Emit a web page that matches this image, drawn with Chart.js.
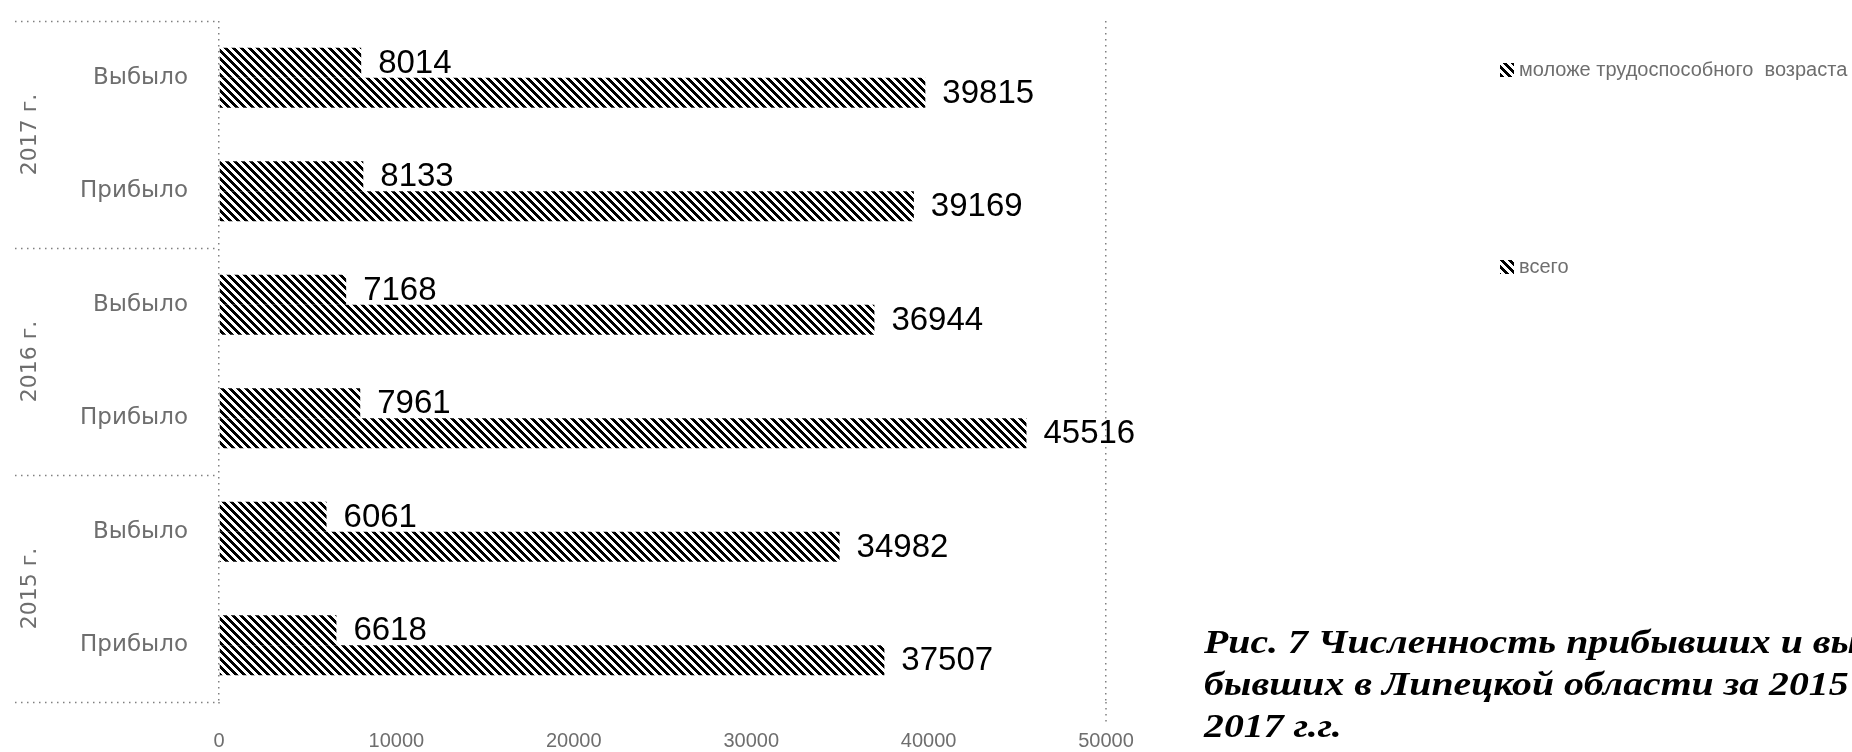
<!DOCTYPE html>
<html>
<head>
<meta charset="utf-8">
<title>Численность прибывших и выбывших</title>
<script src="https://cdn.jsdelivr.net/npm/chart.js@4.4.0/dist/chart.umd.min.js"></script>
<style>
  html, body { margin: 0; padding: 0; background: #fff; overflow: hidden; }
  .wrap { position: relative; width: 1852px; height: 752px; }
  #chart { position: absolute; left: 0; top: 0; }
  .caption {
    position: absolute; left: 1204px; top: 621px;
    font: italic bold 34px "Liberation Serif", "Times New Roman", serif;
    line-height: 42px; white-space: nowrap;
    transform: scaleX(1.17); transform-origin: left top;
  }
</style>
</head>
<body>
<div class="wrap">
  <canvas id="chart" width="1852" height="752"></canvas>
  <div class="caption">Рис. 7 Численность прибывших и вы-<br>бывших в Липецкой области за 2015 -<br>2017 г.г.</div>
</div>
<script>
const rowLabels = ["Выбыло", "Прибыло", "Выбыло", "Прибыло", "Выбыло", "Прибыло"];
const years = ["2017 г.", "2016 г.", "2015 г."];
const youngValues = [8014, 8133, 7168, 7961, 6061, 6618];
const totalValues = [39815, 39169, 36944, 45516, 34982, 37507];
const seriesNames = ["моложе трудоспособного  возраста", "всего"];
const xTicks = [0, 10000, 20000, 30000, 40000, 50000];

const grayText = "#6e6e6e";
const dotColor = "#808080";
const dotDash = [1.5, 4.5];

// diagonal hatch like the scanned original
function makeHatch() {
  const size = 8;
  const c = document.createElement("canvas");
  c.width = size;
  c.height = size;
  const g = c.getContext("2d");
  const img = g.createImageData(size, size);
  for (let y = 0; y < size; y++) {
    for (let x = 0; x < size; x++) {
      const on = ((x - y) % size + size) % size < 4;
      const i = (y * size + x) * 4;
      const v = on ? 0 : 255;
      img.data[i] = v;
      img.data[i + 1] = v;
      img.data[i + 2] = v;
      img.data[i + 3] = 255;
    }
  }
  g.putImageData(img, 0, 0);
  return document.getElementById("chart").getContext("2d").createPattern(c, "repeat");
}
const hatch = makeHatch();

const extras = {
  id: "extras",
  afterDraw(chart) {
    const ctx = chart.ctx;
    const area = chart.chartArea;
    const xScale = chart.scales.x;
    const yScale = chart.scales.y;

    // group separators and year labels on the left
    ctx.save();
    ctx.strokeStyle = dotColor;
    ctx.lineWidth = 1.5;
    ctx.setLineDash(dotDash);
    for (let k = 0; k <= years.length; k++) {
      const y = Math.round(yScale.getPixelForValue(k * 2 - 0.5)) + 0.5;
      ctx.beginPath();
      ctx.moveTo(15, y);
      ctx.lineTo(area.left, y);
      ctx.stroke();
    }
    // the outer grid lines run a little past the plot bottom
    const xEnd = xScale.getPixelForValue(xTicks[xTicks.length - 1]);
    ctx.beginPath();
    ctx.moveTo(xEnd, area.bottom);
    ctx.lineTo(xEnd, area.bottom + 22);
    ctx.moveTo(area.left, area.bottom);
    ctx.lineTo(area.left, area.bottom + 6);
    ctx.stroke();
    ctx.restore();

    ctx.save();
    ctx.fillStyle = grayText;
    ctx.font = "22px 'DejaVu Sans'";
    ctx.textAlign = "center";
    ctx.textBaseline = "middle";
    years.forEach((yr, k) => {
      const yMid = yScale.getPixelForValue(k * 2 + 0.5);
      ctx.save();
      ctx.translate(30, yMid);
      ctx.rotate(-Math.PI / 2);
      ctx.fillText(yr, 0, 0);
      ctx.restore();
    });
    ctx.restore();

    // value labels at the end of every bar
    ctx.save();
    ctx.fillStyle = "#000";
    ctx.font = "33px 'Liberation Sans'";
    ctx.textAlign = "left";
    ctx.textBaseline = "middle";
    chart.data.datasets.forEach((ds, di) => {
      chart.getDatasetMeta(di).data.forEach((bar, i) => {
        ctx.fillText(String(ds.data[i]), bar.x + 17, bar.y + 1);
      });
    });
    ctx.restore();

    // legend on the right
    ctx.save();
    ctx.font = "20px 'Liberation Sans'";
    ctx.textBaseline = "middle";
    const legendY = [70, 267];
    seriesNames.forEach((name, i) => {
      ctx.fillStyle = hatch;
      ctx.fillRect(1500, legendY[i] - 7, 14, 14);
      ctx.fillStyle = grayText;
      ctx.fillText(name, 1519, legendY[i]);
    });
    ctx.restore();
  }
};

new Chart(document.getElementById("chart"), {
  type: "bar",
  data: {
    labels: rowLabels,
    datasets: [
      { label: seriesNames[0], data: youngValues, backgroundColor: hatch, borderWidth: 0 },
      { label: seriesNames[1], data: totalValues, backgroundColor: hatch, borderWidth: 0 },
    ],
  },
  options: {
    responsive: false,
    animation: false,
    indexAxis: "y",
    categoryPercentage: 0.53,
    barPercentage: 1,
    layout: { padding: { top: 21, right: 746, bottom: 0, left: 0 } },
    plugins: {
      legend: { display: false },
      tooltip: { enabled: false },
    },
    scales: {
      x: {
        min: xTicks[0],
        max: xTicks[xTicks.length - 1],
        afterBuildTicks: (axis) => {
          axis.ticks = xTicks.map((v) => ({ value: v }));
        },
        afterFit: (axis) => {
          axis.height = 50;
          axis.paddingLeft = 0;
          axis.paddingRight = 0;
        },
        ticks: {
          callback: (v) => String(v),
          color: grayText,
          padding: 27,
          maxRotation: 0,
          font: { family: "'Liberation Sans'", size: 20 },
        },
        grid: {
          drawTicks: false,
          lineWidth: 1.5,
          color: (c) => (c.index === 0 || c.index === xTicks.length - 1 ? dotColor : "rgba(0,0,0,0)"),
        },
        border: { display: false, dash: dotDash },
      },
      y: {
        afterFit: (axis) => {
          axis.width = 219;
          axis.paddingTop = 0;
          axis.paddingBottom = 0;
        },
        ticks: {
          color: grayText,
          padding: 23,
          font: { family: "'DejaVu Sans'", size: 23 },
        },
        grid: { display: false },
        border: { display: false },
      },
    },
  },
  plugins: [extras],
});
</script>
</body>
</html>
